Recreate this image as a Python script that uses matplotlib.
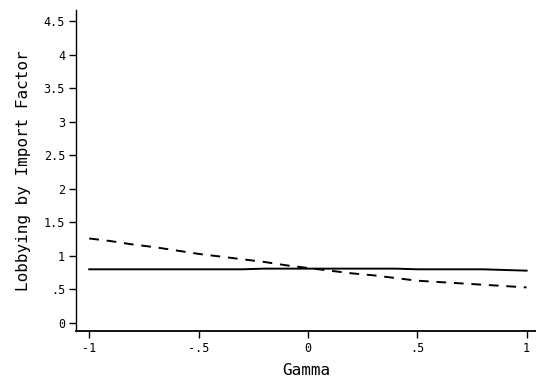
import numpy as np
import matplotlib.pyplot as plt

# values
gamma = [-1.0, -0.9, -0.8, -0.7, -0.6, -0.5, -0.4, -0.3, -0.2, -0.1, 0.0,
         0.1, 0.2, 0.3, 0.4, 0.5, 0.6, 0.7, 0.8, 0.9, 1.0]
lobby_solid = [0.80, 0.80, 0.80, 0.80, 0.80, 0.80, 0.80, 0.80, 0.81, 0.81, 0.81,
               0.81, 0.81, 0.81, 0.81, 0.80, 0.80, 0.80, 0.80, 0.79, 0.78]
lobby_dashed = [1.26, 1.22, 1.17, 1.13, 1.08, 1.03, 0.99, 0.95, 0.91, 0.86, 0.82,
                0.78, 0.74, 0.71, 0.67, 0.63, 0.61, 0.59, 0.57, 0.55, 0.53]

yticks = [0, 0.5, 1, 1.5, 2, 2.5, 3, 3.5, 4, 4.5]
ylabels = ["0", ".5", "1", "1.5", "2", "2.5", "3", "3.5", "4", "4.5"]
xticks = [-1, -0.5, 0, 0.5, 1]
xlabels = ["-1", "-.5", "0", ".5", "1"]

plt.rcParams['font.family'] = 'DejaVu Sans Mono'

fig = plt.figure(figsize=(5.36, 3.8), dpi=100)
ax = fig.add_axes([0.142, 0.129, 0.858, 0.845])

ax.plot(gamma, lobby_solid, color="black", lw=1.4)
ax.plot(gamma, lobby_dashed, color="black", lw=1.4, linestyle=(0, (5, 4)))

ax.set_xlim(-1.06, 1.043)
ax.set_ylim(-0.12, 4.67)
ax.set_yticks(yticks)
ax.set_yticklabels(ylabels)
ax.set_xticks(xticks)
ax.set_xticklabels(xlabels)
ax.tick_params(axis="both", direction="out", length=5, width=1, labelsize=8.5, pad=3)
ax.spines["top"].set_visible(False)
ax.spines["right"].set_visible(False)
ax.spines["left"].set_linewidth(1)
ax.spines["bottom"].set_linewidth(1.3)

ax.set_xlabel("Gamma", fontsize=11.5, labelpad=6)
ax.set_ylabel("Lobbying by Import Factor", fontsize=11.5, labelpad=9)

fig.savefig("out.png", dpi=100)
